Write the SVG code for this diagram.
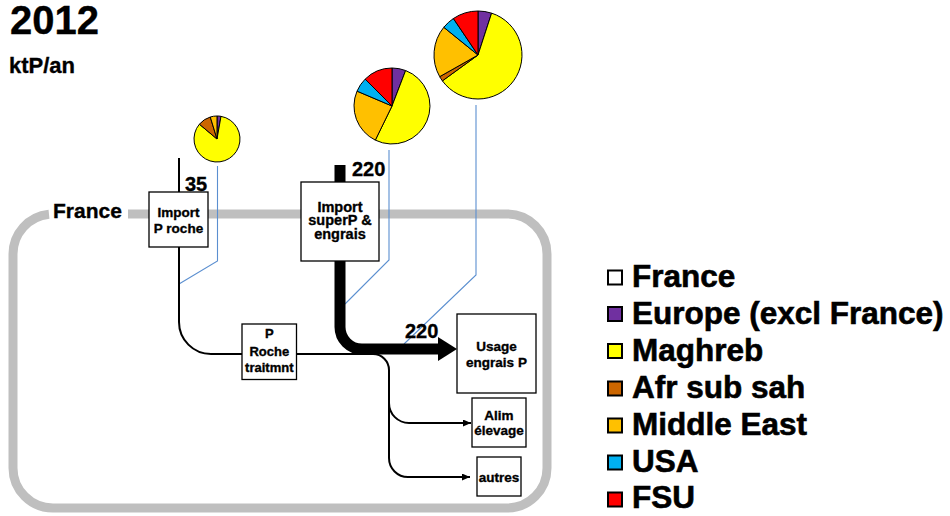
<svg xmlns="http://www.w3.org/2000/svg" width="950" height="516" viewBox="0 0 950 516">
<defs>
<style>
text{font-family:"Liberation Sans",Arial,sans-serif;font-weight:bold;fill:#000;stroke:#000;stroke-width:0.35}
.box{fill:#fff;stroke:#000;stroke-width:1.3}
.bt{font-size:13.5px;text-anchor:middle}
.lead{fill:none;stroke:#5b8fd0;stroke-width:1.1}
.thin{fill:none;stroke:#000;stroke-width:2}
.pie path{stroke:#000;stroke-width:1;stroke-linejoin:round}
.lg{font-size:31.5px;stroke-width:0.6}
.sq{stroke:#000;stroke-width:2}
</style>
<marker id="ah" markerUnits="userSpaceOnUse" markerWidth="9" markerHeight="8" refX="8" refY="3.5" orient="auto">
<path d="M0,0 L8,3.5 L0,7 z" fill="#000"/>
</marker>
</defs>
<rect width="950" height="516" fill="#fff"/>

<text x="10" y="34" style="font-size:40px">2012</text>
<text x="9" y="73" style="font-size:22px">ktP/an</text>

<g id="france-frame">
<path d="M128,214 H507 A40,40 0 0 1 547,254 V468 A40,40 0 0 1 507,508 H53 A40,40 0 0 1 13,468 V254 A40,40 0 0 1 49,214.2" fill="none" stroke="#bfbfbf" stroke-width="9"/>
<text x="53" y="218" style="font-size:21px">France</text>
</g>

<g id="connectors">
<path class="lead" d="M217.5,166 V261 L179,284"/>
<path class="lead" d="M389,150 V260 L345,304"/>
<path class="lead" d="M476,105 V275 L404,344"/>
<path class="thin" d="M179,158 V322 A32,32 0 0 0 211,354 H242"/>
<path d="M340,165 V327 A22,22 0 0 0 362,349 H441" fill="none" stroke="#000" stroke-width="11"/>
<polygon points="438,337 457,349 438,361" fill="#000"/>
<path class="thin" d="M297,354 H373 A16,16 0 0 1 389,370 V458 A19,19 0 0 0 408,477 H470" marker-end="url(#ah)"/>
<path class="thin" d="M389,403 A20,20 0 0 0 409,423 H471" marker-end="url(#ah)"/>
<text x="185" y="191" style="font-size:20px">35</text>
<text x="352" y="176" style="font-size:20px">220</text>
<text x="405" y="338" style="font-size:20px">220</text>
</g>

<g id="import-p-roche">
<rect class="box" x="149" y="192" width="59" height="55"/>
<text class="bt" x="178.5" y="217">Import</text>
<text class="bt" x="178.5" y="233">P roche</text>
</g>

<g id="import-superp">
<rect class="box" x="301" y="182" width="78" height="79"/>
<text class="bt" x="340" y="211.5" style="font-size:14.5px">Import</text>
<text class="bt" x="340" y="225.3" style="font-size:14.5px">superP &amp;</text>
<text class="bt" x="340" y="239" style="font-size:14.5px">engrais</text>
</g>

<g id="p-roche-traitmnt">
<rect class="box" x="242" y="324" width="54.5" height="55.5"/>
<text class="bt" x="269.3" y="338" style="font-size:13px">P</text>
<text class="bt" x="269.3" y="355.5" style="font-size:13px">Roche</text>
<text class="bt" x="269.3" y="372" style="font-size:13px">traitmnt</text>
</g>

<g id="usage-engrais">
<rect class="box" x="457" y="314" width="79" height="79"/>
<text class="bt" x="496.5" y="351">Usage</text>
<text class="bt" x="496.5" y="367">engrais P</text>
</g>

<g id="alim-elevage">
<rect class="box" x="472" y="398" width="54" height="49"/>
<text class="bt" x="499" y="420">Alim</text>
<text class="bt" x="499" y="435">élevage</text>
</g>

<g id="autres">
<rect class="box" x="477" y="457" width="44" height="39"/>
<text class="bt" x="499" y="482">autres</text>
</g>

<g id="pie-small" class="pie">
<path d="M217,139 L217,116 A23,23 0 0 1 221,116.35 Z" fill="#7030a0"/>
<path d="M217,139 L221,116.35 A23,23 0 1 1 199.38,124.22 Z" fill="#ffff00"/>
<path d="M217,139 L199.38,124.22 A23,23 0 0 1 210.28,117 Z" fill="#cc6600"/>
<path d="M217,139 L210.28,117 A23,23 0 0 1 217,116 Z" fill="#ffc000"/>
</g>

<g id="pie-medium" class="pie">
<path d="M392,106 L392,68 A38,38 0 0 1 405.62,70.52 Z" fill="#7030a0"/>
<path d="M392,106 L405.62,70.52 A38,38 0 1 1 375.34,140.15 Z" fill="#ffff00"/>
<path d="M392,106 L375.34,140.15 A38,38 0 0 1 357.02,91.15 Z" fill="#ffc000"/>
<path d="M392,106 L357.02,91.15 A38,38 0 0 1 365.13,79.13 Z" fill="#00b0f0"/>
<path d="M392,106 L365.13,79.13 A38,38 0 0 1 392,68 Z" fill="#ff0000"/>
</g>

<g id="pie-large" class="pie">
<path d="M478,55 L478,11 A44,44 0 0 1 491.6,13.15 Z" fill="#7030a0"/>
<path d="M478,55 L491.6,13.15 A44,44 0 1 1 442.4,80.86 Z" fill="#ffff00"/>
<path d="M478,55 L442.4,80.86 A44,44 0 0 1 439.7,76.67 Z" fill="#cc6600"/>
<path d="M478,55 L439.7,76.67 A44,44 0 0 1 443.81,27.31 Z" fill="#ffc000"/>
<path d="M478,55 L443.81,27.31 A44,44 0 0 1 453.4,18.52 Z" fill="#00b0f0"/>
<path d="M478,55 L453.4,18.52 A44,44 0 0 1 478,11 Z" fill="#ff0000"/>
</g>

<g id="legend">
<rect class="sq" x="608" y="270.5" width="14" height="14" fill="#fff"/>
<text class="lg" x="632" y="287">France</text>
<rect class="sq" x="608" y="307" width="14" height="14" fill="#7030a0"/>
<text class="lg" x="632" y="323.5">Europe (excl France)</text>
<rect class="sq" x="608" y="344" width="14" height="14" fill="#ffff00"/>
<text class="lg" x="632" y="360.5">Maghreb</text>
<rect class="sq" x="608" y="381.5" width="14" height="14" fill="#cc6600"/>
<text class="lg" x="632" y="397.5">Afr sub sah</text>
<rect class="sq" x="608" y="418.5" width="14" height="14" fill="#ffc000"/>
<text class="lg" x="632" y="434.5">Middle East</text>
<rect class="sq" x="608" y="455.5" width="14" height="14" fill="#00b0f0"/>
<text class="lg" x="632" y="471.5">USA</text>
<rect class="sq" x="608" y="492.5" width="14" height="14" fill="#ff0000"/>
<text class="lg" x="632" y="508">FSU</text>
</g>
</svg>
